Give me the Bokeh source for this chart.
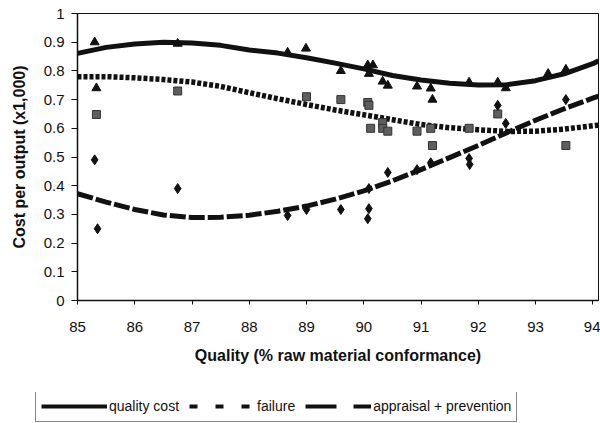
from bokeh.plotting import figure
from bokeh.layouts import column
from bokeh.models import (Range1d, FixedTicker, CustomJSTickFormatter, Legend, LegendItem,
                          ColumnDataSource)
from bokeh.embed import file_html
from bokeh.resources import INLINE

# ---- data ----
x_ticks = [85, 86, 87, 88, 89, 90, 91, 92, 93, 94]
y_ticks = [0, 0.1, 0.2, 0.3, 0.4, 0.5, 0.6, 0.7, 0.8, 0.9, 1.0]

qc_x = [85.33, 86.75, 85.3, 88.67, 88.99, 89.6, 90.07, 90.16, 90.09, 90.33, 90.42,
        90.93, 91.17, 91.2, 91.84, 92.34, 92.48, 93.22, 93.53]
qc_y = [0.74, 0.895, 0.90, 0.864, 0.878, 0.80, 0.82, 0.82, 0.79, 0.763, 0.749,
        0.746, 0.739, 0.70, 0.76, 0.76, 0.74, 0.79, 0.805]

fail_x = [85.33, 86.75, 89.0, 89.6, 90.07, 90.09, 90.12, 90.33, 90.33, 90.42,
          90.93, 91.17, 91.2, 91.84, 92.34, 93.53]
fail_y = [0.648, 0.73, 0.71, 0.70, 0.69, 0.68, 0.60, 0.62, 0.60, 0.59,
          0.59, 0.60, 0.54, 0.60, 0.65, 0.54]

ap_x = [85.3, 85.35, 86.75, 88.67, 89.0, 89.6, 90.07, 90.09, 90.09, 90.42,
        90.93, 91.17, 91.84, 91.85, 92.34, 92.48, 93.53]
ap_y = [0.49, 0.25, 0.39, 0.296, 0.317, 0.317, 0.285, 0.32, 0.39, 0.446,
        0.456, 0.48, 0.495, 0.474, 0.68, 0.617, 0.70]

trend_x = [85, 85.5, 86, 86.5, 87, 87.5, 88, 88.5, 89, 89.5, 90, 90.5, 91, 91.5,
           92, 92.5, 93, 93.5, 94, 94.1]
trend_qc = [0.861, 0.882, 0.894, 0.900, 0.897, 0.889, 0.873, 0.862, 0.846, 0.827,
            0.807, 0.784, 0.768, 0.757, 0.751, 0.752, 0.766, 0.790, 0.825, 0.835]
trend_fail = [0.780, 0.780, 0.776, 0.770, 0.761, 0.746, 0.724, 0.703, 0.683, 0.664,
              0.647, 0.630, 0.613, 0.602, 0.595, 0.589, 0.590, 0.597, 0.609, 0.611]
trend_ap = [0.372, 0.343, 0.317, 0.298, 0.289, 0.290, 0.297, 0.311, 0.329, 0.353,
            0.382, 0.417, 0.456, 0.498, 0.540, 0.585, 0.628, 0.668, 0.705, 0.712]

labels = ["quality cost", "failure", "appraisal + prevention"]

FONT = "Liberation Sans"
INK = "#111111"

p = figure(width=600, height=392, output_backend="svg", toolbar_location=None,
           x_range=Range1d(85, 94.1), y_range=Range1d(0, 1),
           min_border_left=77, min_border_right=2, min_border_top=13,
           min_border_bottom=92, frame_align=False)

p.xgrid.visible = False
p.ygrid.visible = False
p.outline_line_color = INK
p.outline_line_width = 1
p.background_fill_color = "white"
p.border_fill_color = "white"

# axes
p.xaxis.ticker = FixedTicker(ticks=x_ticks)
p.yaxis.ticker = FixedTicker(ticks=y_ticks)
p.yaxis.formatter = CustomJSTickFormatter(code="return String(Math.round(tick*10)/10);")
for ax in (p.xaxis[0], p.yaxis[0]):
    ax.axis_line_color = INK
    ax.axis_line_width = 1.5
    ax.major_tick_line_color = INK
    ax.major_tick_in = 0
    ax.minor_tick_line_color = None
    ax.major_label_text_font = FONT
    ax.major_label_text_font_size = "15px"
    ax.major_label_text_color = INK
    ax.axis_label_text_font = FONT
    ax.axis_label_text_font_size = "16px"
    ax.axis_label_text_font_style = "bold"
    ax.axis_label_text_color = INK
p.xaxis.major_tick_out = 4
p.xaxis.major_label_standoff = 17
p.xaxis.axis_label = "Quality (% raw material conformance)"
p.xaxis.axis_label_standoff = 12
p.yaxis.major_tick_out = 6
p.yaxis.major_label_standoff = 7
p.yaxis.axis_label = "Cost per output (x1,000)"
p.yaxis.axis_label_standoff = 13

# trend lines
p.line(trend_x, trend_qc, line_color=INK, line_width=5)
p.line(trend_x, trend_fail, line_color=INK, line_width=5.5, line_dash="4 2")
p.line(trend_x, trend_ap, line_color=INK, line_width=5, line_dash="16 3")

# points
p.scatter(fail_x, fail_y, marker="square", size=8, fill_color="#5e5e5e",
          line_color="#333333", line_width=1)
p.scatter(qc_x, qc_y, marker="triangle", size=9, fill_color=INK, line_color=INK)
p.scatter(ap_x, ap_y, marker="diamond", size=10, fill_color=INK, line_color=INK)

# ---- legend strip (separate figure below, no axes) ----
lg = figure(width=600, height=31, output_backend="svg", toolbar_location=None,
            x_range=Range1d(0, 1), y_range=Range1d(0, 1),
            x_axis_location=None, y_axis_location=None,
            min_border_left=0, min_border_right=0, min_border_top=0,
            min_border_bottom=0, frame_align=False)
lg.xgrid.visible = False
lg.ygrid.visible = False
lg.outline_line_color = None
lg.border_fill_color = "white"

nan = float("nan")
l1 = lg.line("x", "y", source=ColumnDataSource(dict(x=[nan], y=[nan])),
             line_color=INK, line_width=4)
l2 = lg.line("x", "y", source=ColumnDataSource(dict(x=[nan], y=[nan])),
             line_color=INK, line_width=4, line_dash="8 18")
l3 = lg.line("x", "y", source=ColumnDataSource(dict(x=[nan], y=[nan])),
             line_color=INK, line_width=4, line_dash="31 17")

legend = Legend(items=[LegendItem(label=labels[0], renderers=[l1]),
                       LegendItem(label=labels[1], renderers=[l2]),
                       LegendItem(label=labels[2], renderers=[l3])],
                orientation="horizontal", location=(35, 1),
                glyph_width=66, glyph_height=20, label_standoff=2, spacing=10,
                padding=5, margin=0, label_text_font=FONT,
                label_text_font_size="14px", label_text_color=INK,
                border_line_color=INK, border_line_width=1,
                background_fill_color="white", background_fill_alpha=1)
lg.add_layout(legend, "center")

open("out.html", "w").write(file_html(column(p, lg, spacing=0), INLINE))
